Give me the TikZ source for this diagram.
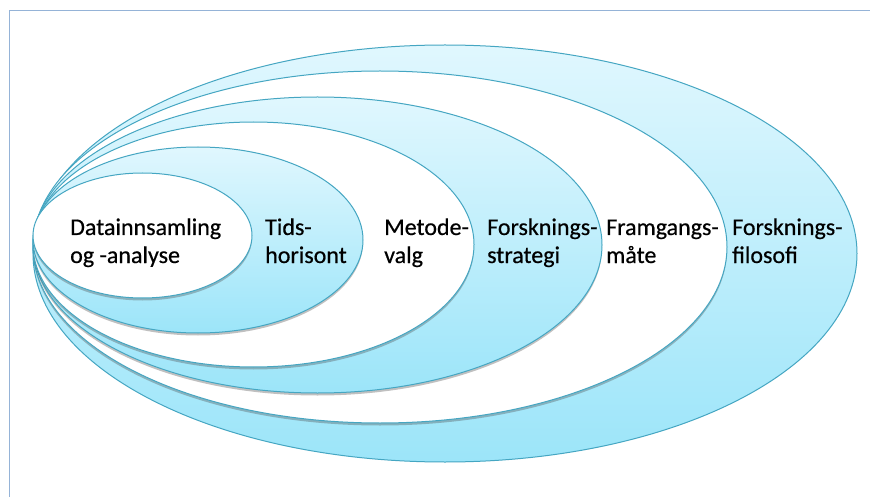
\documentclass[tikz,border=0pt]{standalone}
\usepackage{fontspec}
\setmainfont{Carlito}[UprightFeatures={FakeBold=0.5}]
\usetikzlibrary{shapes.geometric,shadows}
\definecolor{edge}{HTML}{45A6C2}
\definecolor{bandtop}{HTML}{E0F7FE}
\definecolor{bandbot}{HTML}{9CE5F9}
\definecolor{framecol}{HTML}{95B3D7}
\begin{document}
\begin{tikzpicture}[x=1pt,y=-1pt,
 ring/.style={ellipse, draw=edge, line width=1pt, inner sep=0pt, outer sep=0pt},
 blueband/.style={ring, top color=bandtop, bottom color=bandbot},
 whiteband/.style={ring, fill=white},
 shad/.style={drop shadow={shadow xshift=0pt, shadow yshift=-2.5pt, opacity=0.35, fill=black!70}},
 lbl/.style={anchor=base west, inner sep=0pt, font=\fontsize{24}{28}\selectfont}]
\useasboundingbox (0,0) rectangle (870,497);
\fill[white] (0,0) rectangle (870,497);
\coordinate (fa) at (9.5,497);
\coordinate (fb) at (9.5,11);
\coordinate (fc) at (870,11);
\draw[framecol, line width=1pt] (fa) -- (fb) -- (fc);
\node[blueband, minimum width=824pt, minimum height=417pt] (e1) at (445,253.5) {};
\node[whiteband, shad, minimum width=694pt, minimum height=352pt] (e2) at (380,247) {};
\node[blueband, shad, minimum width=569pt, minimum height=296pt] (e3) at (317.5,245) {};
\node[whiteband, shad, minimum width=441pt, minimum height=245pt] (e4) at (253.5,244.5) {};
\node[blueband, shad, minimum width=330pt, minimum height=186pt] (e5) at (198,240) {};
\node[whiteband, shad, minimum width=219pt, minimum height=125pt] (e6) at (142.5,235.5) {};
\node[lbl] (t6a) at (70,235) {Datainnsamling};
\node[lbl] (t6b) at (70,263) {og -analyse};
\node[lbl] (t5a) at (265,235) {Tids-};
\node[lbl] (t5b) at (265,263) {horisont};
\node[lbl] (t4a) at (384,235) {Metode-};
\node[lbl] (t4b) at (384,263) {valg};
\node[lbl] (t3a) at (487,235) {Forsknings-};
\node[lbl] (t3b) at (487,263) {strategi};
\node[lbl] (t2a) at (606,235) {Framgangs-};
\node[lbl] (t2b) at (606,263) {måte};
\node[lbl] (t1a) at (732,235) {Forsknings-};
\node[lbl] (t1b) at (732,263) {filosofi};
\end{tikzpicture}
\end{document}
